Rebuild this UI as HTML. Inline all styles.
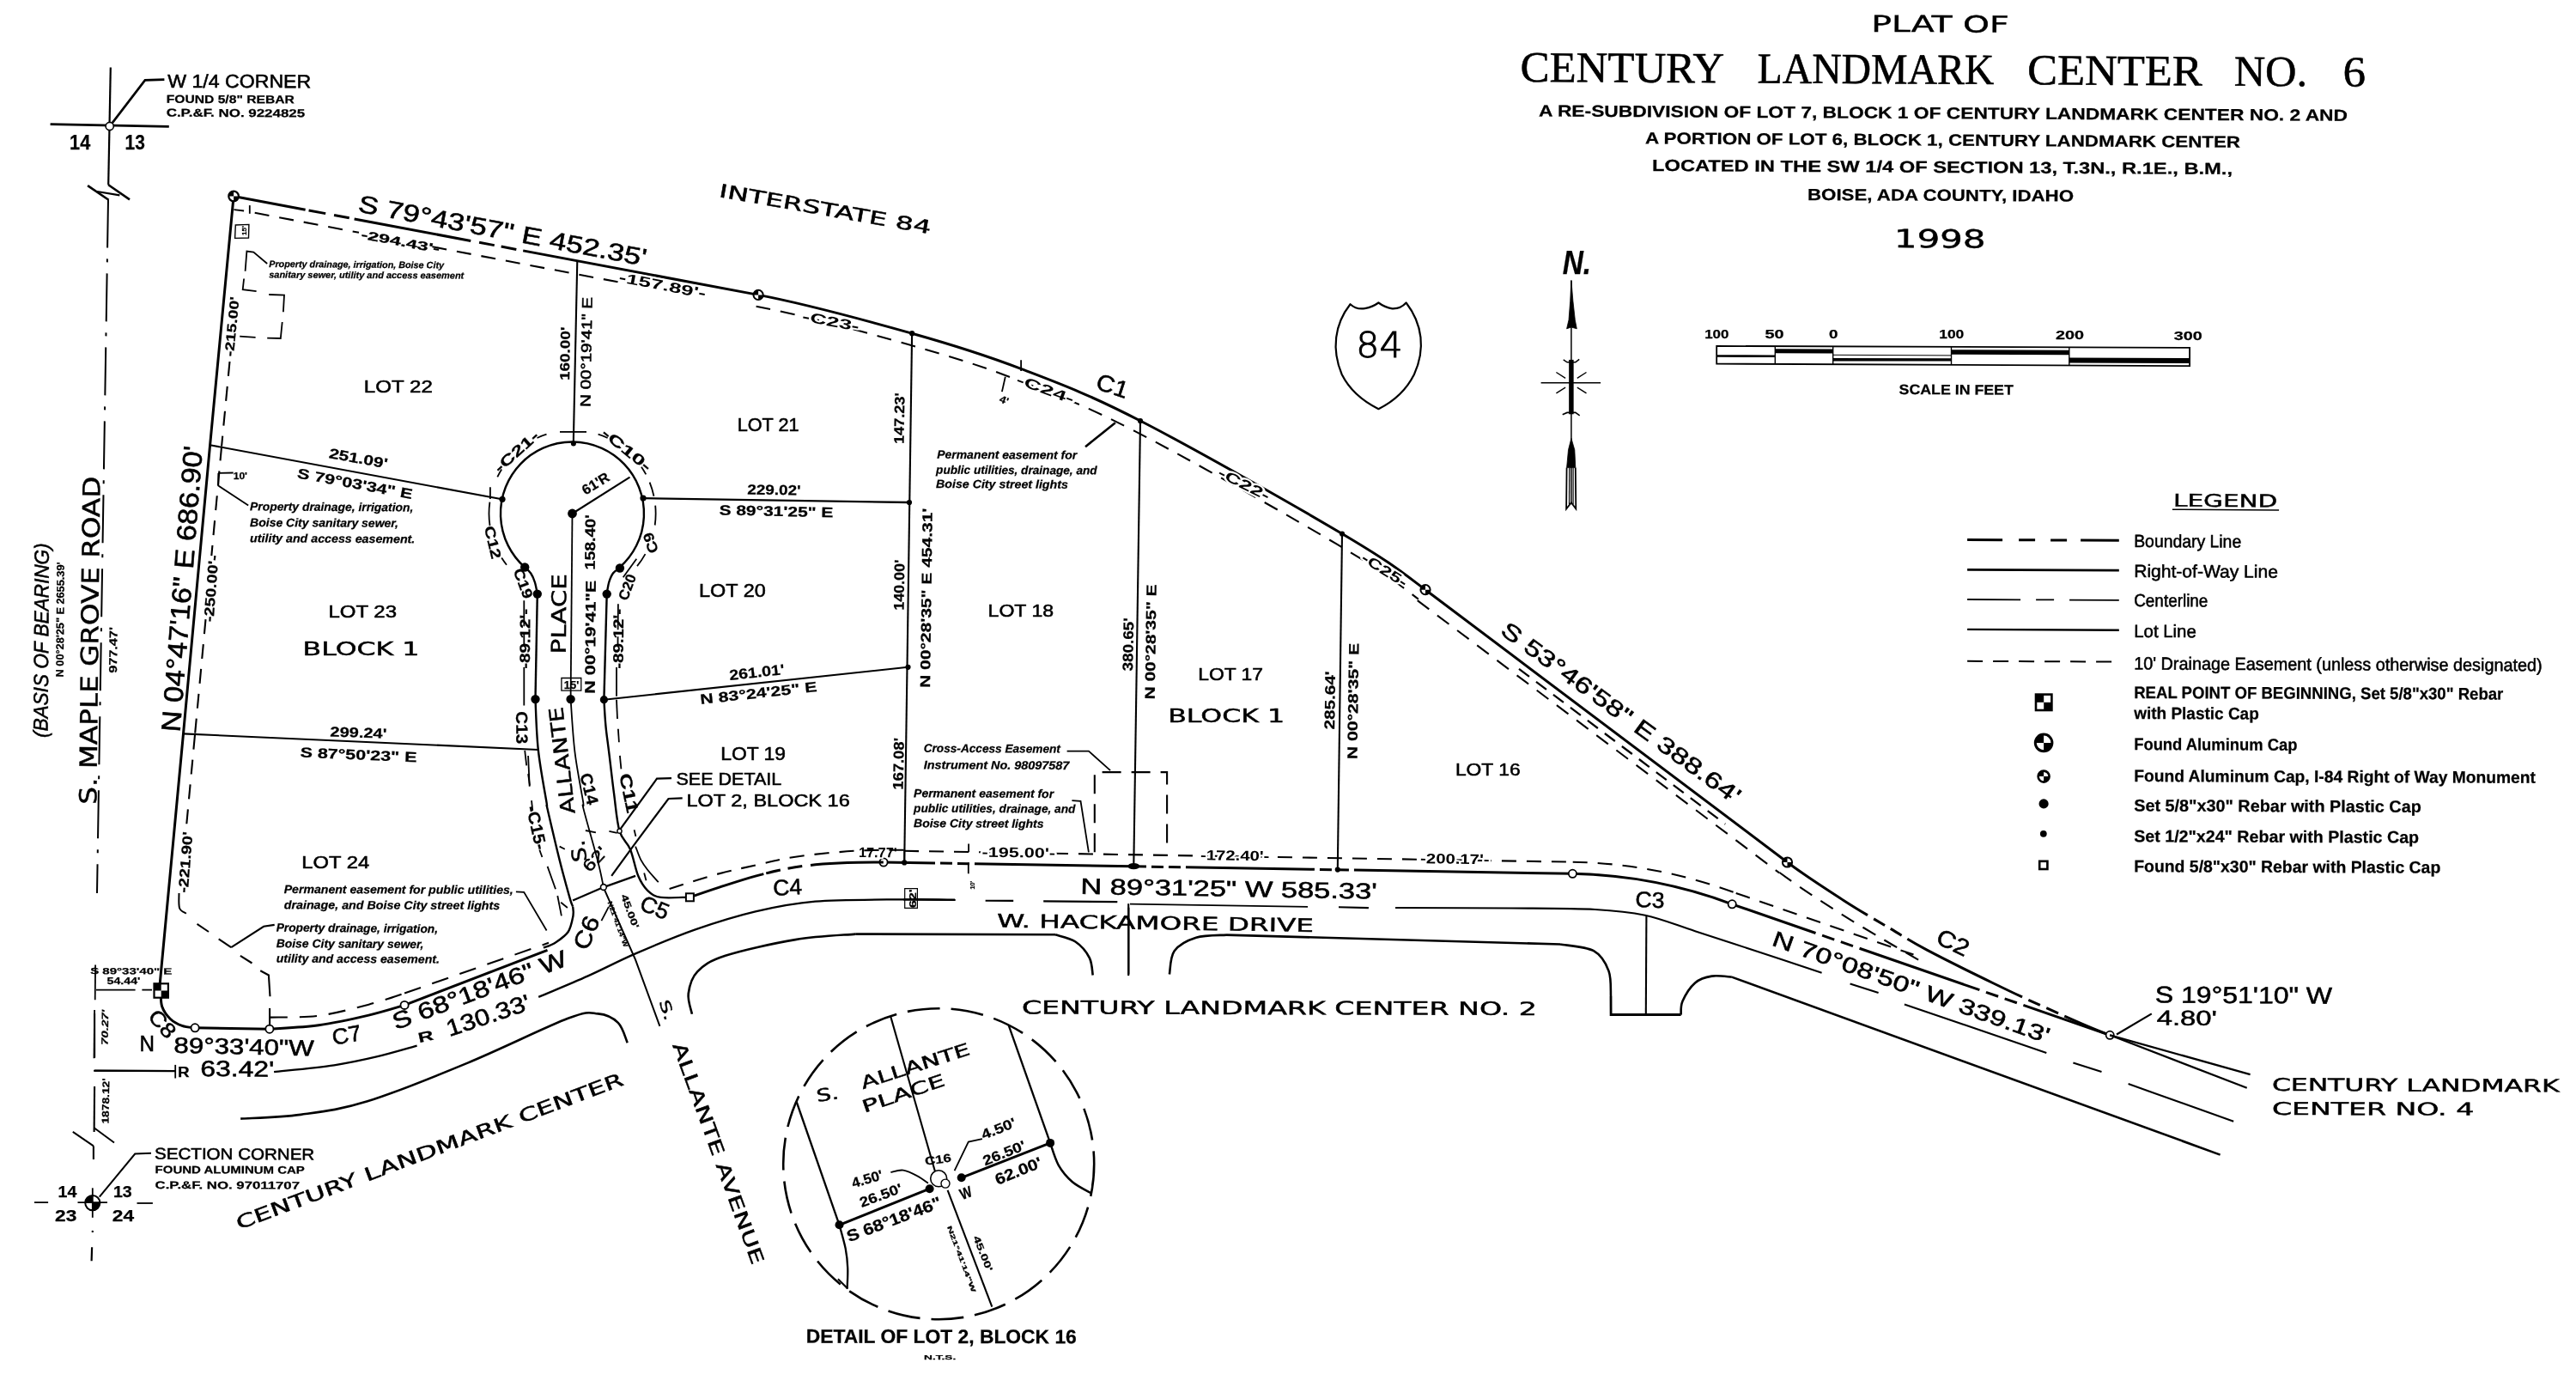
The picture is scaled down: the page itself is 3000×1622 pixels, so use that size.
<!DOCTYPE html>
<html><head><meta charset="utf-8"><title>Plat of Century Landmark Center No. 6</title>
<style>
html,body{margin:0;padding:0;background:#fff;overflow:hidden;width:3000px;height:1622px}
svg{display:block;filter:grayscale(1)}
text{fill:#000;white-space:pre;stroke:#000;stroke-width:0.55px}
.s{font-family:"Liberation Sans",sans-serif}
.r{font-family:"Liberation Serif",serif}
.d{font-family:"DejaVu Sans","Liberation Sans",sans-serif;stroke-width:0.45px}
.xl{font-weight:200;stroke-width:1px}
.m{font-family:"Liberation Mono",monospace}
.b{font-weight:bold;stroke-width:0.25px}
.h{paint-order:stroke;stroke:#fff;stroke-width:4px;stroke-linejoin:round}
.i{font-style:italic}
</style></head><body>
<svg width="3000" height="1622" viewBox="0 0 3000 1622">
<rect width="3000" height="1622" fill="#fff"/>
<text class="d" x="2179.3" y="36.9" font-size="26.6" textLength="160.3" lengthAdjust="spacingAndGlyphs" transform="rotate(0.28 2179.3 36.9)">PLAT OF</text>
<text class="r" x="1770.6" y="95.0" font-size="50.4" textLength="237.4" lengthAdjust="spacingAndGlyphs" transform="rotate(0.32 1770.6 95.0)">CENTURY</text>
<text class="r" x="2046.6" y="96.5" font-size="50.4" textLength="275.6" lengthAdjust="spacingAndGlyphs" transform="rotate(0.32 2046.6 96.5)">LANDMARK</text>
<text class="r" x="2361.0" y="98.3" font-size="50.4" textLength="203.8" lengthAdjust="spacingAndGlyphs" transform="rotate(0.32 2361.0 98.3)">CENTER</text>
<text class="r" x="2601.7" y="99.7" font-size="50.4" textLength="85.4" lengthAdjust="spacingAndGlyphs" transform="rotate(0.32 2601.7 99.7)">NO.</text>
<text class="r" x="2728.5" y="100.4" font-size="50.4" textLength="26.5" lengthAdjust="spacingAndGlyphs" transform="rotate(0.32 2728.5 100.4)">6</text>
<text class="s b" x="1792.0" y="135.5" font-size="18.9" textLength="942.0" lengthAdjust="spacingAndGlyphs" transform="rotate(0.32 1792.0 135.5)">A RE-SUBDIVISION OF LOT 7, BLOCK 1 OF CENTURY LANDMARK CENTER NO. 2 AND</text>
<text class="s b" x="1916.0" y="167.3" font-size="18.9" textLength="693.0" lengthAdjust="spacingAndGlyphs" transform="rotate(0.37 1916.0 167.3)">A PORTION OF LOT 6, BLOCK 1, CENTURY LANDMARK CENTER</text>
<text class="s b" x="1924.0" y="199.0" font-size="18.9" textLength="676.0" lengthAdjust="spacingAndGlyphs" transform="rotate(0.34 1924.0 199.0)">LOCATED IN THE SW 1/4 OF SECTION 13, T.3N., R.1E., B.M.,</text>
<text class="s b" x="2105.0" y="233.0" font-size="18.9" textLength="310.0" lengthAdjust="spacingAndGlyphs" transform="rotate(0.28 2105.0 233.0)">BOISE, ADA COUNTY, IDAHO</text>
<text class="d" x="2205.7" y="288.0" font-size="29.3" textLength="106.8" lengthAdjust="spacingAndGlyphs" transform="rotate(0.42 2205.7 288.0)">1998</text>
<text class="s b" x="1985.2" y="394.0" font-size="15.2" textLength="28.3" lengthAdjust="spacingAndGlyphs">100</text>
<text class="s b" x="2055.5" y="394.0" font-size="15.2" textLength="22.1" lengthAdjust="spacingAndGlyphs">50</text>
<text class="s b" x="2130.0" y="394.0" font-size="15.2" textLength="10.5" lengthAdjust="spacingAndGlyphs">0</text>
<text class="s b" x="2258.2" y="394.4" font-size="15.2" textLength="29.1" lengthAdjust="spacingAndGlyphs">100</text>
<text class="s b" x="2394.0" y="395.2" font-size="15.2" textLength="33.0" lengthAdjust="spacingAndGlyphs">200</text>
<text class="s b" x="2531.8" y="396.0" font-size="15.2" textLength="33.0" lengthAdjust="spacingAndGlyphs">300</text>
<text class="s b" x="2211.6" y="458.9" font-size="16.3" textLength="133.2" lengthAdjust="spacingAndGlyphs" transform="rotate(0.33 2211.6 458.9)">SCALE IN FEET</text>
<path d="M1999.2 402.9 L2550.1 404.9 L2550.1 426.1 L1999.2 423.6 Z" fill="none" stroke="#000" stroke-width="1.80"/>
<path d="M2067.3 403.1 L2067.3 423.9" fill="none" stroke="#000" stroke-width="1.40"/>
<path d="M2134.7 403.4 L2134.7 424.2" fill="none" stroke="#000" stroke-width="1.40"/>
<path d="M2272.5 403.9 L2272.5 424.8" fill="none" stroke="#000" stroke-width="1.40"/>
<path d="M2409.8 404.4 L2409.8 425.5" fill="none" stroke="#000" stroke-width="1.40"/>
<path d="M1999.2 414.5 L2067.3 414.8" fill="none" stroke="#000" stroke-width="2.60"/>
<path d="M2067.3 408.7 L2134.7 408.9" fill="none" stroke="#000" stroke-width="5.00"/>
<path d="M2134.7 418.8 L2272.5 418.9" fill="none" stroke="#000" stroke-width="3.40"/>
<path d="M2272.5 410.0 L2409.8 410.5" fill="none" stroke="#000" stroke-width="5.50"/>
<path d="M2409.8 419.4 L2550.1 420.1" fill="none" stroke="#000" stroke-width="6.00"/>
<path d="M2134.7 413.3 L2272.5 413.9" fill="none" stroke="#000" stroke-width="1.00"/>
<path d="M1572.5 354.2 Q1579.8 360.8 1589.6 359.1 Q1598.6 357.4 1605.4 352.5 Q1612.7 357.9 1621.3 359.3 Q1631.0 359.8 1637.6 352.5 C1656.7 377.4 1660.3 406.7 1646.9 436.0 C1637.1 455.5 1620.1 468.9 1605.4 476.2 C1590.8 468.9 1572.5 455.5 1562.7 436.0 C1550.5 406.7 1554.2 377.4 1572.5 354.2Z" fill="none" stroke="#000" stroke-width="2.2" stroke-linejoin="round"/>
<text class="d xl" x="1579.3" y="416.4" font-size="40.2" textLength="54.2" lengthAdjust="spacingAndGlyphs">84</text>
<text class="s b i" x="1819.7" y="318.8" font-size="38.2" textLength="33.4" lengthAdjust="spacingAndGlyphs">N.</text>
<path d="M1829.9 326.6 L1829.9 587.3" fill="none" stroke="#000" stroke-width="1.50"/>
<path d="M1829.9 326.6 L1831.9 350.5 L1834.3 372.5 L1836.3 382.8 L1829.9 381.0 L1824.6 382.8 L1827.0 372.5 L1828.7 350.5 Z" fill="#000" stroke="#000" stroke-width="0.80"/>
<path d="M1829.9 418.9 L1829.9 482.3" fill="none" stroke="#000" stroke-width="5.50"/>
<path d="M1794.6 445.7 L1864.1 445.7" fill="none" stroke="#000" stroke-width="1.60"/>
<path d="M1836.8 451.1 L1847.5 457.9" fill="none" stroke="#000" stroke-width="1.40"/>
<path d="M1836.8 440.3 L1847.5 433.5" fill="none" stroke="#000" stroke-width="1.40"/>
<path d="M1823.1 451.1 L1812.4 457.9" fill="none" stroke="#000" stroke-width="1.40"/>
<path d="M1823.1 440.3 L1812.4 433.5" fill="none" stroke="#000" stroke-width="1.40"/>
<path d="M1820.7 418.9 L1825.1 421.8 L1834.8 421.8 L1839.2 418.4" fill="none" stroke="#000" stroke-width="1.60"/>
<path d="M1819.7 482.8 L1825.1 480.4 L1834.8 480.4 L1839.7 483.8" fill="none" stroke="#000" stroke-width="1.60"/>
<path d="M1829.9 510.4 L1833.8 523.8 L1834.8 544.6 L1824.6 544.6 L1826.5 523.8 Z" fill="#000" stroke="#000" stroke-width="0.80"/>
<path d="M1824.6 544.6 L1824.1 592.6 L1829.9 585.3 L1835.3 592.6 L1834.8 544.6" fill="none" stroke="#000" stroke-width="1.80"/>
<path d="M1827.7 544.6 L1827.5 587.3" fill="none" stroke="#000" stroke-width="1.20"/>
<path d="M1832.1 544.6 L1832.1 587.3" fill="none" stroke="#000" stroke-width="1.20"/>
<text class="d" x="2531.1" y="589.7" font-size="20.2" textLength="121.1" lengthAdjust="spacingAndGlyphs" transform="rotate(0.37 2531.1 589.7)">LEGEND</text>
<path d="M2529.9 593.2 L2654.1 594.0" fill="none" stroke="#000" stroke-width="1.60"/>
<path d="M2291.1 628.5 L2467.8 629.3" fill="none" stroke="#000" stroke-width="3.00" stroke-dasharray="41 19 19 18 19 16 45 100"/>
<path d="M2291.1 663.4 L2467.8 664.2" fill="none" stroke="#000" stroke-width="2.70"/>
<path d="M2291.1 698.0 L2467.8 698.8" fill="none" stroke="#000" stroke-width="1.80" stroke-dasharray="62 18 21 18 58 100"/>
<path d="M2291.1 732.9 L2467.8 733.7" fill="none" stroke="#000" stroke-width="2.40"/>
<path d="M2291.1 769.8 L2467.8 770.6" fill="none" stroke="#000" stroke-width="2.00" stroke-dasharray="18 12"/>
<text class="s" x="2485.2" y="637.0" font-size="20.6" textLength="125.0" lengthAdjust="spacingAndGlyphs" transform="rotate(0.23 2485.2 637.0)">Boundary Line</text>
<text class="s" x="2485.2" y="672.0" font-size="20.6" textLength="167.7" lengthAdjust="spacingAndGlyphs" transform="rotate(0.23 2485.2 672.0)">Right-of-Way Line</text>
<text class="s" x="2485.2" y="706.1" font-size="20.6" textLength="86.2" lengthAdjust="spacingAndGlyphs" transform="rotate(0.23 2485.2 706.1)">Centerline</text>
<text class="s" x="2485.2" y="741.9" font-size="20.6" textLength="72.6" lengthAdjust="spacingAndGlyphs" transform="rotate(0.23 2485.2 741.9)">Lot Line</text>
<text class="s" x="2485.2" y="779.5" font-size="20.6" textLength="475.5" lengthAdjust="spacingAndGlyphs" transform="rotate(0.23 2485.2 779.5)">10' Drainage Easement (unless otherwise designated)</text>
<text class="s b" x="2485.2" y="812.9" font-size="19.5" textLength="430.1" lengthAdjust="spacingAndGlyphs" transform="rotate(0.23 2485.2 812.9)">REAL POINT OF BEGINNING, Set 5/8"x30" Rebar</text>
<text class="s b" x="2485.2" y="837.0" font-size="19.5" textLength="145.6" lengthAdjust="spacingAndGlyphs" transform="rotate(0.23 2485.2 837.0)">with Plastic Cap</text>
<text class="s b" x="2485.2" y="873.1" font-size="19.5" textLength="190.2" lengthAdjust="spacingAndGlyphs" transform="rotate(0.23 2485.2 873.1)">Found Aluminum Cap</text>
<text class="s b" x="2485.2" y="910.0" font-size="19.5" textLength="467.8" lengthAdjust="spacingAndGlyphs" transform="rotate(0.23 2485.2 910.0)">Found Aluminum Cap, I-84 Right of Way Monument</text>
<text class="s b" x="2485.2" y="944.5" font-size="19.5" textLength="334.6" lengthAdjust="spacingAndGlyphs" transform="rotate(0.23 2485.2 944.5)">Set 5/8"x30" Rebar with Plastic Cap</text>
<text class="s b" x="2485.2" y="980.2" font-size="19.5" textLength="331.9" lengthAdjust="spacingAndGlyphs" transform="rotate(0.23 2485.2 980.2)">Set 1/2"x24" Rebar with Plastic Cap</text>
<text class="s b" x="2485.2" y="1015.2" font-size="19.5" textLength="357.1" lengthAdjust="spacingAndGlyphs" transform="rotate(0.23 2485.2 1015.2)">Found 5/8"x30" Rebar with Plastic Cap</text>
<rect x="2371.0" y="808.6" width="18.4" height="18.4" fill="#fff" stroke="#000" stroke-width="2.6"/>
<rect x="2371.0" y="808.6" width="9.2" height="9.2" fill="#000"/>
<rect x="2380.2" y="817.8" width="9.2" height="9.2" fill="#000"/>
<circle cx="2380.1" cy="864.9" r="9.8" fill="#fff" stroke="#000" stroke-width="3.0"/>
<path d="M2380.1 864.9 L2370.3 864.9 A9.8 9.8 0 0 1 2380.1 855.1 Z" fill="#000"/>
<path d="M2380.1 864.9 L2389.9 864.9 A9.8 9.8 0 0 1 2380.1 874.7 Z" fill="#000"/>
<circle cx="2380.1" cy="904.1" r="6.5" fill="#fff" stroke="#000" stroke-width="2.6"/>
<path d="M2380.1 904.1 L2373.6 904.1 A6.5 6.5 0 0 1 2380.1 897.6 Z" fill="#000"/>
<path d="M2380.1 904.1 L2386.6 904.1 A6.5 6.5 0 0 1 2380.1 910.6 Z" fill="#000"/>
<circle cx="2380.1" cy="935.9" r="5.6" fill="#000"/>
<circle cx="2379.8" cy="970.8" r="3.9" fill="#000"/>
<rect x="2375.2" y="1002.8" width="9.2" height="9.2" fill="#fff" stroke="#000" stroke-width="2.6"/>
<path d="M128.8 78.6 L126.2 215.3" fill="none" stroke="#000" stroke-width="2.20"/>
<path d="M58.6 144.6 L196.8 147.3" fill="none" stroke="#000" stroke-width="2.80"/>
<path d="M126.2 215.3 L151.0 232.4" fill="none" stroke="#000" stroke-width="2.60"/>
<path d="M102.1 216.1 L126.5 232.7" fill="none" stroke="#000" stroke-width="2.60"/>
<path d="M139.4 227.4 L113.0 223.0" fill="none" stroke="#000" stroke-width="2.20"/>
<path d="M130.8 143.1 L168.9 93.4 L191.4 92.6" fill="none" stroke="#000" stroke-width="2.60"/>
<circle cx="127.7" cy="147.0" r="4.6" fill="#fff" stroke="#000" stroke-width="1.60"/>
<text class="s" x="195.3" y="101.9" font-size="21.7" textLength="166.9" lengthAdjust="spacingAndGlyphs" transform="rotate(0.11 195.3 101.9)">W 1/4 CORNER</text>
<text class="s b" x="193.7" y="119.8" font-size="13.0" textLength="149.1" lengthAdjust="spacingAndGlyphs" transform="rotate(0.18 193.7 119.8)">FOUND 5/8" REBAR</text>
<text class="s b" x="193.7" y="135.6" font-size="13.0" textLength="161.5" lengthAdjust="spacingAndGlyphs" transform="rotate(0.28 193.7 135.6)">C.P.&amp;F. NO. 9224825</text>
<text class="s b" x="81.1" y="174.1" font-size="23.4" textLength="24.1" lengthAdjust="spacingAndGlyphs">14</text>
<text class="s b" x="145.6" y="174.1" font-size="23.4" textLength="23.3" lengthAdjust="spacingAndGlyphs">13</text>
<path d="M126.0 232.4 L113.0 1040.0" fill="none" stroke="#000" stroke-width="2.00" stroke-dasharray="56 13 4 13"/>
<path d="M272.1 228.5 L883.1 343.4" fill="none" stroke="#000" stroke-width="3.00" stroke-dasharray="85 4 20 10 18 6 138 10 18 8 18 8 1000"/>
<path d="M883.1 343.4 C943.5 354.8 1011.2 373.9 1062.1 388.2 C1113.0 402.5 1144.0 412.1 1188.3 429.1 C1232.6 446.1 1265.5 457.9 1328.0 490.0 C1390.5 522.1 1507.7 588.7 1563.0 621.5 C1618.3 654.3 1628.9 663.3 1660.0 686.7" fill="none" stroke="#000" stroke-width="3.00"/>
<path d="M1660.0 686.7 L2081.5 1004.0" fill="none" stroke="#000" stroke-width="3.00"/>
<path d="M2081.5 1004.0 C2102.6 1019.9 2127.1 1035.5 2147.1 1048.4 C2167.1 1061.3 2185.2 1071.6 2201.4 1081.2 C2217.6 1090.8 2224.1 1095.6 2244.1 1106.2 C2264.1 1116.8 2299.0 1134.0 2321.7 1145.0 C2344.3 1156.0 2357.4 1162.2 2380.0 1172.2 C2402.6 1182.2 2430.9 1195.6 2457.2 1205.3" fill="none" stroke="#000" stroke-width="3.00" stroke-dasharray="112 8 15 8 15 8 150 8 15 8 15 8 400"/>
<path d="M272.1 228.5 L244.6 518.2 L213.5 854.4 L185.6 1152.0" fill="none" stroke="#000" stroke-width="3.00"/>
<path d="M296.7 247.8 L418.0 270.8" fill="none" stroke="#000" stroke-width="2.10" stroke-dasharray="17 12"/>
<path d="M503.4 287.3 L720.0 328.4" fill="none" stroke="#000" stroke-width="2.10" stroke-dasharray="17 12"/>
<path d="M272.4 244.2 L284.1 245.5" fill="none" stroke="#000" stroke-width="1.80"/>
<path d="M290.8 239.1 L290.8 248.8" fill="none" stroke="#000" stroke-width="1.80"/>
<path d="M274.3 262.0 L289.9 261.4 L289.5 277.0 L273.6 277.4 Z" fill="none" stroke="#000" stroke-width="1.40"/>
<text class="s b" x="287.0" y="274.1" font-size="8.1" transform="rotate(-90.00 287.0 274.1)">15'</text>
<path d="M285.6 315.8 L287.4 292.5 L295.3 293.5 L311.2 307.0" fill="none" stroke="#000" stroke-width="1.80"/>
<path d="M284.1 324.5 L282.7 337.1 L298.6 339.1" fill="none" stroke="#000" stroke-width="1.80"/>
<path d="M313.2 343.0 L331.0 343.5 L329.9 363.3" fill="none" stroke="#000" stroke-width="1.80"/>
<path d="M328.7 375.0 L326.8 394.0 L311.2 393.6" fill="none" stroke="#000" stroke-width="1.80"/>
<path d="M297.6 392.8 L279.2 391.7" fill="none" stroke="#000" stroke-width="1.80"/>
<text class="s b i" x="313.2" y="310.9" font-size="10.8" textLength="203.8" lengthAdjust="spacingAndGlyphs" transform="rotate(0.44 313.2 310.9)">Property drainage, irrigation, Boise City</text>
<text class="s b i" x="313.2" y="323.5" font-size="10.8" textLength="227.1" lengthAdjust="spacingAndGlyphs" transform="rotate(0.24 313.2 323.5)">sanitary sewer, utility and access easement</text>
<text class="s b" x="419.9" y="277.5" font-size="14.1" textLength="92.8" lengthAdjust="spacingAndGlyphs" transform="rotate(10.72 419.9 277.5)">-294.43'-</text>
<text class="s" x="416.0" y="246.3" font-size="28.2" textLength="341.0" lengthAdjust="spacingAndGlyphs" transform="rotate(10.73 416.0 246.3)">S 79°43'57" E 452.35'</text>
<text class="s" x="423.8" y="456.9" font-size="20.9" textLength="80.0" lengthAdjust="spacingAndGlyphs">LOT 22</text>
<text class="s b" x="272.0" y="415.4" font-size="15.2" textLength="69.8" lengthAdjust="spacingAndGlyphs" transform="rotate(-84.57 272.0 415.4)">-215.00'</text>
<path d="M672.3 303.2 L667.8 515.9" fill="none" stroke="#000" stroke-width="2.10"/>
<text class="s b" x="662.9" y="442.9" font-size="15.7" textLength="62.1" lengthAdjust="spacingAndGlyphs" transform="rotate(-88.93 662.9 442.9)">160.00'</text>
<text class="s" x="687.4" y="474.0" font-size="16.8" textLength="128.1" lengthAdjust="spacingAndGlyphs" transform="rotate(-88.96 687.4 474.0)">N 00°19'41" E</text>
<path d="M611.2 660.6 A83.5 83.5 0 1 1 721.4 660.9" fill="none" stroke="#000" stroke-width="2.40"/>
<path d="M611.2 660.5 C612.4 661.6 616.1 664.4 618.0 667.3 C620.0 670.2 621.6 673.9 622.9 678.0 C624.2 682.0 625.3 689.3 625.8 691.6" fill="none" stroke="#000" stroke-width="2.40"/>
<path d="M721.9 661.5 C720.6 662.5 716.2 664.6 714.1 667.3 C712.0 670.1 710.5 673.9 709.2 678.0 C708.0 682.0 707.1 689.3 706.7 691.6" fill="none" stroke="#000" stroke-width="2.40"/>
<path d="M570.5 612.2 A97.1 97.1 0 0 1 570.4 584.7" fill="none" stroke="#000" stroke-width="1.80"/>
<path d="M579.3 555.4 A97.1 97.1 0 0 1 584.2 546.6" fill="none" stroke="#000" stroke-width="1.80"/>
<path d="M625.5 510.0 A97.1 97.1 0 0 1 636.5 505.7" fill="none" stroke="#000" stroke-width="1.80"/>
<path d="M696.6 505.7 A97.1 97.1 0 0 1 707.6 510.0" fill="none" stroke="#000" stroke-width="1.80"/>
<path d="M747.0 543.7 A97.1 97.1 0 0 1 752.3 552.4" fill="none" stroke="#000" stroke-width="1.80"/>
<path d="M756.6 561.6 A97.1 97.1 0 0 1 761.5 577.8" fill="none" stroke="#000" stroke-width="1.80"/>
<path d="M763.2 588.7 A97.1 97.1 0 0 1 762.7 611.5" fill="none" stroke="#000" stroke-width="1.80"/>
<path d="M751.5 645.1 A97.1 97.1 0 0 1 742.0 659.1" fill="none" stroke="#000" stroke-width="1.80"/>
<path d="M590.0 657.8 A97.1 97.1 0 0 1 584.2 649.5" fill="none" stroke="#000" stroke-width="1.80"/>
<path d="M652.0 502.9 L683.0 502.9" fill="none" stroke="#000" stroke-width="1.80"/>
<path d="M570.9 567.3 L570.9 580.9" fill="none" stroke="#000" stroke-width="1.80"/>
<path d="M666.5 598.0 L733.5 555.7" fill="none" stroke="#000" stroke-width="2.10"/>
<circle cx="666.5" cy="598.0" r="5.4" fill="#000"/>
<circle cx="611.2" cy="660.5" r="5.2" fill="#000"/>
<circle cx="721.9" cy="661.5" r="5.2" fill="#000"/>
<circle cx="625.8" cy="691.6" r="5.2" fill="#000"/>
<circle cx="706.7" cy="691.6" r="5.2" fill="#000"/>
<circle cx="585.0" cy="581.3" r="3.6" fill="#000"/>
<circle cx="749.0" cy="580.0" r="3.6" fill="#000"/>
<circle cx="667.9" cy="516.5" r="3.0" fill="#000"/>
<path d="M244.6 518.2 L584.5 581.3" fill="none" stroke="#000" stroke-width="2.10"/>
<path d="M749.0 580.2 L1059.0 585.0" fill="none" stroke="#000" stroke-width="2.30"/>
<text class="s" x="858.7" y="501.7" font-size="21.7" textLength="71.8" lengthAdjust="spacingAndGlyphs">LOT 21</text>
<text class="s b" x="870.3" y="575.5" font-size="16.3" textLength="62.1" lengthAdjust="spacingAndGlyphs" transform="rotate(0.90 870.3 575.5)">229.02'</text>
<text class="s b" x="837.4" y="599.4" font-size="16.3" textLength="133.0" lengthAdjust="spacingAndGlyphs" transform="rotate(1.25 837.4 599.4)">S 89°31'25" E</text>
<text class="s" x="814.1" y="694.5" font-size="21.7" textLength="77.6" lengthAdjust="spacingAndGlyphs">LOT 20</text>
<text class="s b" x="682.1" y="576.7" font-size="16.3" textLength="34.3" lengthAdjust="spacingAndGlyphs" transform="rotate(-31.80 682.1 576.7)">61'R</text>
<text class="s b" x="692.7" y="663.4" font-size="16.8" textLength="64.1" lengthAdjust="spacingAndGlyphs" transform="rotate(-89.48 692.7 663.4)">158.40'</text>
<text class="s b" x="581.7" y="551.4" font-size="16.8" textLength="63.2" lengthAdjust="spacingAndGlyphs" transform="rotate(-42.01 581.7 551.4)">-C21-</text>
<text class="s b" x="699.5" y="506.2" font-size="16.8" textLength="69.0" lengthAdjust="spacingAndGlyphs" transform="rotate(39.29 699.5 506.2)">-C10-</text>
<text class="s b" x="563.7" y="613.9" font-size="16.8" textLength="38.9" lengthAdjust="spacingAndGlyphs" transform="rotate(76.45 563.7 613.9)">C12</text>
<text class="s b" x="597.6" y="664.4" font-size="16.8" textLength="36.2" lengthAdjust="spacingAndGlyphs" transform="rotate(69.62 597.6 664.4)">C19</text>
<text class="s b" x="766.9" y="642.1" font-size="16.8" textLength="24.4" lengthAdjust="spacingAndGlyphs" transform="rotate(-107.14 766.9 642.1)">C9</text>
<text class="s b" x="730.6" y="700.3" font-size="16.8" textLength="31.0" lengthAdjust="spacingAndGlyphs" transform="rotate(-69.86 730.6 700.3)">C20</text>
<path d="M625.8 691.6 L623.5 814.1" fill="none" stroke="#000" stroke-width="2.40"/>
<path d="M706.7 691.6 L703.4 814.7" fill="none" stroke="#000" stroke-width="2.40"/>
<path d="M666.5 598.0 L664.6 814.1" fill="none" stroke="#000" stroke-width="1.80"/>
<path d="M623.5 814.1 C624.0 823.9 624.6 853.0 626.8 873.0 C628.9 893.0 634.6 922.6 636.5 934.1 C638.3 945.6 635.1 930.9 637.6 942.1 C640.2 953.3 647.3 984.0 651.6 1001.1 C655.9 1018.2 660.7 1035.5 663.3 1044.6 C665.8 1053.7 666.5 1053.7 667.1 1055.5" fill="none" stroke="#000" stroke-width="2.40"/>
<path d="M667.1 1055.5 C667.2 1057.3 668.4 1061.4 667.5 1066.3 C666.5 1071.3 665.1 1079.8 661.7 1085.0 C658.3 1090.1 651.7 1094.3 647.0 1097.4 C642.2 1100.5 635.3 1102.6 633.0 1103.6" fill="none" stroke="#000" stroke-width="2.40"/>
<path d="M664.6 814.1 C665.4 824.4 667.0 855.9 669.5 875.9 C671.9 895.9 677.5 923.1 679.2 934.1 C680.8 945.1 676.7 930.4 679.6 942.1 C682.5 953.8 692.8 989.1 696.6 1004.2 C700.5 1019.4 701.8 1028.2 702.9 1033.0" fill="none" stroke="#000" stroke-width="1.80"/>
<path d="M703.4 814.7 C703.7 819.7 704.4 834.6 705.4 844.8 C706.3 855.0 707.6 862.6 709.2 875.9 C710.9 889.1 713.0 909.1 715.1 924.4 C717.1 939.7 718.3 957.0 721.5 967.7 C724.6 978.4 730.3 980.0 733.9 988.7 C737.5 997.4 739.9 1011.7 743.2 1019.8 C746.6 1027.8 749.7 1032.6 754.1 1036.8 C758.5 1041.0 761.6 1043.6 769.6 1044.9 C777.7 1046.2 796.8 1044.6 802.2 1044.6" fill="none" stroke="#000" stroke-width="2.40"/>
<path d="M667.1 1048.5 L702.9 1033.0 L740.1 1019.8" fill="none" stroke="#000" stroke-width="2.40"/>
<circle cx="623.5" cy="814.1" r="5.2" fill="#000"/>
<circle cx="664.6" cy="814.1" r="5.2" fill="#000"/>
<circle cx="703.4" cy="814.7" r="4.6" fill="#000"/>
<path d="M610.3 699.3 L610.3 750.0" fill="none" stroke="#000" stroke-width="1.80" stroke-dasharray="30 8"/>
<path d="M719.9 703.2 L719.5 750.0" fill="none" stroke="#000" stroke-width="1.80" stroke-dasharray="30 8"/>
<path d="M741.3 650.8 L725.7 672.2" fill="none" stroke="#000" stroke-width="1.80"/>
<path d="M610.3 776.9 L610.3 821.5" fill="none" stroke="#000" stroke-width="1.80"/>
<path d="M718.0 776.9 L718.0 810.8" fill="none" stroke="#000" stroke-width="1.80"/>
<path d="M718.0 814.7 L719.0 837.0" fill="none" stroke="#000" stroke-width="1.80"/>
<path d="M719.9 848.7 L720.9 864.2" fill="none" stroke="#000" stroke-width="1.80"/>
<path d="M721.9 879.8 L723.4 895.3" fill="none" stroke="#000" stroke-width="1.80"/>
<path d="M611.2 873.9 L613.2 891.4" fill="none" stroke="#000" stroke-width="1.80"/>
<path d="M615.1 901.1 L617.0 914.7" fill="none" stroke="#000" stroke-width="1.80"/>
<path d="M619.0 932.2 L620.3 943.8" fill="none" stroke="#000" stroke-width="1.80"/>
<path d="M615.1 880.0 L616.7 915.7" fill="none" stroke="#000" stroke-width="1.80"/>
<path d="M628.3 989.5 L631.4 998.0" fill="none" stroke="#000" stroke-width="1.80"/>
<path d="M637.6 1008.9 L647.0 1035.3" fill="none" stroke="#000" stroke-width="1.80"/>
<path d="M649.3 1043.0 L653.9 1066.3" fill="none" stroke="#000" stroke-width="1.80"/>
<path d="M651.6 985.6 L657.8 988.7" fill="none" stroke="#000" stroke-width="1.80"/>
<path d="M653.2 1050.8 L660.9 1057.0" fill="none" stroke="#000" stroke-width="1.80"/>
<path d="M703.4 814.7 L1057.5 776.8" fill="none" stroke="#000" stroke-width="2.10"/>
<path d="M213.5 854.4 L626.8 873.0" fill="none" stroke="#000" stroke-width="2.10"/>
<text class="s b" x="850.0" y="792.0" font-size="16.8" textLength="64.4" lengthAdjust="spacingAndGlyphs" transform="rotate(-6.23 850.0 792.0)">261.01'</text>
<text class="s b" x="816.0" y="820.0" font-size="16.3" textLength="136.7" lengthAdjust="spacingAndGlyphs" transform="rotate(-6.28 816.0 820.0)">N 83°24'25" E</text>
<text class="s" x="839.3" y="884.6" font-size="21.7" textLength="75.7" lengthAdjust="spacingAndGlyphs">LOT 19</text>
<text class="s" x="787.5" y="914.3" font-size="20.3" textLength="122.7" lengthAdjust="spacingAndGlyphs">SEE DETAIL</text>
<text class="s" x="799.5" y="939.0" font-size="20.3" textLength="190.2" lengthAdjust="spacingAndGlyphs">LOT 2, BLOCK 16</text>
<path d="M782.0 906.1 L765.0 906.7 L721.9 966.1" fill="none" stroke="#000" stroke-width="2.20"/>
<path d="M794.7 929.4 L778.5 930.0 L739.3 982.6 L712.2 1019.8" fill="none" stroke="#000" stroke-width="2.20"/>
<text class="s b" x="601.1" y="828.3" font-size="19.0" textLength="37.9" lengthAdjust="spacingAndGlyphs" transform="rotate(89.41 601.1 828.3)">C13</text>
<text class="d" x="669.8" y="946.7" font-size="22.9" textLength="125.1" lengthAdjust="spacingAndGlyphs" transform="rotate(-96.68 669.8 946.7)">ALLANTE</text>
<text class="s b" x="675.3" y="902.1" font-size="19.5" textLength="37.0" lengthAdjust="spacingAndGlyphs" transform="rotate(76.33 675.3 902.1)">C14</text>
<text class="s b" x="720.9" y="902.1" font-size="19.5" textLength="46.6" lengthAdjust="spacingAndGlyphs" transform="rotate(77.99 720.9 902.1)">C11</text>
<text class="s b" x="612.8" y="939.9" font-size="19.5" textLength="51.7" lengthAdjust="spacingAndGlyphs" transform="rotate(77.63 612.8 939.9)">-C15-</text>
<text class="s b" x="617.0" y="778.8" font-size="16.8" textLength="69.9" lengthAdjust="spacingAndGlyphs" transform="rotate(-89.68 617.0 778.8)">-89.12'-</text>
<text class="s b" x="725.7" y="778.8" font-size="16.8" textLength="69.9" lengthAdjust="spacingAndGlyphs" transform="rotate(-89.68 725.7 778.8)">-89.12'-</text>
<text class="s b" x="692.7" y="807.9" font-size="16.8" textLength="132.0" lengthAdjust="spacingAndGlyphs" transform="rotate(-89.49 692.7 807.9)">N 00°19'41"E</text>
<text class="d" x="658.8" y="761.4" font-size="23.4" textLength="93.2" lengthAdjust="spacingAndGlyphs" transform="rotate(-89.64 658.8 761.4)">PLACE</text>
<path d="M653.9 789.5 L676.8 789.5 L676.8 804.1 L653.9 804.1 Z" fill="none" stroke="#000" stroke-width="1.30"/>
<text class="s b" x="656.8" y="801.7" font-size="13.6" textLength="17.5" lengthAdjust="spacingAndGlyphs">15'</text>
<text class="s" x="209.6" y="852.9" font-size="31.4" textLength="334.1" lengthAdjust="spacingAndGlyphs" transform="rotate(-85.47 209.6 852.9)">N 04°47'16" E 686.90'</text>
<text class="s i" x="55.5" y="859.1" font-size="23.9" textLength="226.7" lengthAdjust="spacingAndGlyphs" transform="rotate(-89.61 55.5 859.1)">(BASIS OF BEARING)</text>
<text class="s b" x="73.8" y="788.4" font-size="12.5" textLength="133.9" lengthAdjust="spacingAndGlyphs" transform="rotate(-89.50 73.8 788.4)">N 00°28'25" E 2655.39'</text>
<text class="d" x="112.2" y="936.7" font-size="27.7" textLength="382.0" lengthAdjust="spacingAndGlyphs" transform="rotate(-89.36 112.2 936.7)">S. MAPLE GROVE ROAD</text>
<text class="s b" x="135.9" y="783.8" font-size="13.0" textLength="53.6" lengthAdjust="spacingAndGlyphs" transform="rotate(-89.17 135.9 783.8)">977.47'</text>
<text class="s b" x="345.5" y="556.3" font-size="16.3" textLength="136.2" lengthAdjust="spacingAndGlyphs" transform="rotate(10.51 345.5 556.3)">S 79°03'34" E</text>
<text class="s b" x="382.4" y="533.0" font-size="16.3" textLength="69.1" lengthAdjust="spacingAndGlyphs" transform="rotate(10.36 382.4 533.0)">251.09'</text>
<text class="s b" x="271.7" y="557.5" font-size="10.8" textLength="16.3" lengthAdjust="spacingAndGlyphs">10'</text>
<path d="M254.3 550.9 L271.7 550.5" fill="none" stroke="#000" stroke-width="1.80"/>
<path d="M254.3 550.9 L254.3 565.6 L289.2 588.5" fill="none" stroke="#000" stroke-width="1.80"/>
<text class="s b i" x="291.1" y="594.3" font-size="13.6" textLength="190.2" lengthAdjust="spacingAndGlyphs" transform="rotate(0.35 291.1 594.3)">Property drainage, irrigation,</text>
<text class="s b i" x="291.1" y="613.0" font-size="13.6" textLength="172.8" lengthAdjust="spacingAndGlyphs" transform="rotate(0.26 291.1 613.0)">Boise City sanitary sewer,</text>
<text class="s b i" x="291.1" y="631.2" font-size="13.6" textLength="192.2" lengthAdjust="spacingAndGlyphs" transform="rotate(0.35 291.1 631.2)">utility and access easement.</text>
<text class="s b" x="248.4" y="724.4" font-size="16.3" textLength="77.9" lengthAdjust="spacingAndGlyphs" transform="rotate(-85.43 248.4 724.4)">-250.00'-</text>
<text class="s" x="382.4" y="719.3" font-size="20.6" textLength="79.6" lengthAdjust="spacingAndGlyphs">LOT 23</text>
<text class="d" x="352.5" y="763.2" font-size="21.3" textLength="135.9" lengthAdjust="spacingAndGlyphs">BLOCK 1</text>
<text class="s b" x="384.3" y="857.5" font-size="16.3" textLength="66.0" lengthAdjust="spacingAndGlyphs" transform="rotate(2.02 384.3 857.5)">299.24'</text>
<text class="s b" x="349.4" y="881.6" font-size="16.3" textLength="136.0" lengthAdjust="spacingAndGlyphs" transform="rotate(2.45 349.4 881.6)">S 87°50'23" E</text>
<text class="s b" x="218.6" y="1040.0" font-size="16.3" textLength="71.3" lengthAdjust="spacingAndGlyphs" transform="rotate(-85.31 218.6 1040.0)">-221.90'</text>
<text class="s" x="351.3" y="1010.5" font-size="20.6" textLength="78.8" lengthAdjust="spacingAndGlyphs">LOT 24</text>
<text class="s b i" x="330.7" y="1040.0" font-size="13.6" textLength="267.1" lengthAdjust="spacingAndGlyphs" transform="rotate(0.17 330.7 1040.0)">Permanent easement for public utilities,</text>
<text class="s b i" x="330.7" y="1058.2" font-size="13.6" textLength="251.6" lengthAdjust="spacingAndGlyphs" transform="rotate(0.18 330.7 1058.2)">drainage, and Boise City street lights</text>
<path d="M600.9 1038.4 L610.2 1038.8 L636.6 1083.5" fill="none" stroke="#000" stroke-width="1.80"/>
<path d="M267.5 421.0 L258.1 519.5" fill="none" stroke="#000" stroke-width="2.10" stroke-dasharray="17 12"/>
<path d="M258.1 519.5 L246.3 647.2" fill="none" stroke="#000" stroke-width="2.10" stroke-dasharray="17 12"/>
<path d="M239.5 721.2 L227.0 855.7" fill="none" stroke="#000" stroke-width="2.10" stroke-dasharray="17 12"/>
<path d="M227.0 855.7 L216.7 965.8" fill="none" stroke="#000" stroke-width="2.10" stroke-dasharray="17 12"/>
<path d="M187.3 1156.5 C187.6 1159.0 186.9 1167.0 188.7 1172.0 C190.5 1177.0 194.5 1182.8 198.4 1186.5 C202.3 1190.3 207.2 1192.6 212.0 1194.3 C216.8 1196.0 224.6 1196.4 227.1 1196.8" fill="none" stroke="#000" stroke-width="3.00"/>
<path d="M227.1 1196.8 L313.9 1198.2" fill="none" stroke="#000" stroke-width="3.00"/>
<path d="M313.9 1198.2 C323.4 1197.4 351.9 1196.4 371.1 1193.7 C390.4 1191.0 412.7 1186.0 429.4 1182.1 C446.0 1178.2 464.2 1172.4 471.1 1170.4" fill="none" stroke="#000" stroke-width="3.00"/>
<path d="M471.1 1170.4 L637.5 1106.3" fill="none" stroke="#000" stroke-width="3.00"/>
<rect x="179.5" y="1145.3" width="16.4" height="16.4" fill="#fff" stroke="#000" stroke-width="2.2"/>
<rect x="179.5" y="1145.3" width="8.2" height="8.2" fill="#000"/>
<rect x="187.7" y="1153.5" width="8.2" height="8.2" fill="#000"/>
<circle cx="227.1" cy="1196.8" r="4.6" fill="#fff" stroke="#000" stroke-width="1.80"/>
<circle cx="313.9" cy="1198.2" r="4.6" fill="#fff" stroke="#000" stroke-width="1.80"/>
<circle cx="471.1" cy="1170.4" r="4.6" fill="#fff" stroke="#000" stroke-width="1.80"/>
<path d="M314.9 1184.6 C324.2 1184.3 352.1 1185.2 371.1 1182.7 C390.2 1180.2 412.7 1174.0 429.4 1169.7 C446.0 1165.3 464.2 1158.7 471.1 1156.5" fill="none" stroke="#000" stroke-width="2.10" stroke-dasharray="20 14"/>
<path d="M471.1 1156.5 L639.0 1097.8" fill="none" stroke="#000" stroke-width="2.10" stroke-dasharray="20 14"/>
<path d="M208.5 1040.0 C208.6 1042.9 207.7 1053.5 209.1 1057.5 C210.5 1061.4 215.5 1062.6 216.8 1063.7" fill="none" stroke="#000" stroke-width="2.00"/>
<path d="M229.5 1075.9 L243.0 1085.0" fill="none" stroke="#000" stroke-width="2.10"/>
<path d="M254.7 1093.4 L269.2 1103.1" fill="none" stroke="#000" stroke-width="2.10"/>
<path d="M269.2 1103.1 L307.1 1078.8 L319.7 1076.9" fill="none" stroke="#000" stroke-width="2.10"/>
<path d="M279.9 1112.8 L293.5 1121.5" fill="none" stroke="#000" stroke-width="2.10"/>
<path d="M303.2 1130.3 L312.9 1135.5 L314.5 1160.3" fill="none" stroke="#000" stroke-width="2.10"/>
<path d="M314.1 1173.9 L314.1 1194.3" fill="none" stroke="#000" stroke-width="2.10"/>
<text class="s b i" x="321.7" y="1084.6" font-size="13.6" textLength="188.3" lengthAdjust="spacingAndGlyphs" transform="rotate(0.47 321.7 1084.6)">Property drainage, irrigation,</text>
<text class="s b i" x="321.7" y="1103.1" font-size="13.6" textLength="171.8" lengthAdjust="spacingAndGlyphs" transform="rotate(0.32 321.7 1103.1)">Boise City sanitary sewer,</text>
<text class="s b i" x="321.7" y="1120.6" font-size="13.6" textLength="190.2" lengthAdjust="spacingAndGlyphs" transform="rotate(0.29 321.7 1120.6)">utility and access easement.</text>
<path d="M111.1 1123.5 L110.7 1164.2" fill="none" stroke="#000" stroke-width="1.80"/>
<path d="M112.0 1152.6 L157.6 1152.6" fill="none" stroke="#000" stroke-width="1.80"/>
<path d="M165.4 1152.6 L177.0 1152.6" fill="none" stroke="#000" stroke-width="1.80"/>
<path d="M110.1 1175.9 L109.5 1232.2" fill="none" stroke="#000" stroke-width="1.80"/>
<path d="M109.1 1246.7 L204.2 1247.1" fill="none" stroke="#000" stroke-width="2.00"/>
<path d="M204.2 1239.9 L204.2 1255.5" fill="none" stroke="#000" stroke-width="1.80"/>
<text class="s b" x="105.2" y="1134.1" font-size="10.3" textLength="95.1" lengthAdjust="spacingAndGlyphs" transform="rotate(0.23 105.2 1134.1)">S 89°33'40" E</text>
<text class="s b" x="124.6" y="1145.8" font-size="10.3" textLength="38.8" lengthAdjust="spacingAndGlyphs">54.44'</text>
<text class="s b i" x="125.6" y="1217.0" font-size="10.8" textLength="41.2" lengthAdjust="spacingAndGlyphs" transform="rotate(-89.19 125.6 1217.0)">70.27'</text>
<text class="s b" x="126.6" y="1308.6" font-size="11.4" textLength="53.2" lengthAdjust="spacingAndGlyphs" transform="rotate(-89.16 126.6 1308.6)">1878.12'</text>
<text class="s" x="162.5" y="1223.8" font-size="25.8" textLength="17.5" lengthAdjust="spacingAndGlyphs">N</text>
<text class="s" x="202.3" y="1225.8" font-size="25.8" textLength="163.1" lengthAdjust="spacingAndGlyphs" transform="rotate(1.23 202.3 1225.8)">89°33'40"W</text>
<text class="s" x="233.3" y="1252.9" font-size="25.8" textLength="85.8" lengthAdjust="spacingAndGlyphs" transform="rotate(0.65 233.3 1252.9)">63.42'</text>
<text class="s b" x="207.1" y="1253.5" font-size="16.3" textLength="13.6" lengthAdjust="spacingAndGlyphs">R</text>
<text class="s" x="388.6" y="1217.0" font-size="25.8" textLength="34.0" lengthAdjust="spacingAndGlyphs" transform="rotate(-10.54 388.6 1217.0)">C7</text>
<text class="s" x="171.2" y="1184.6" font-size="24.4" textLength="35.1" lengthAdjust="spacingAndGlyphs" transform="rotate(48.37 171.2 1184.6)">C8</text>
<text class="s" x="461.1" y="1199.5" font-size="27.2" textLength="215.0" lengthAdjust="spacingAndGlyphs" transform="rotate(-20.67 461.1 1199.5)">S 68°18'46" W</text>
<text class="s" x="523.3" y="1207.2" font-size="27.2" textLength="101.3" lengthAdjust="spacingAndGlyphs" transform="rotate(-18.37 523.3 1207.2)">130.33'</text>
<text class="s b" x="488.3" y="1214.2" font-size="16.3" textLength="17.9" lengthAdjust="spacingAndGlyphs" transform="rotate(-12.53 488.3 1214.2)">R</text>
<path d="M319.1 1248.1 C330.7 1246.8 369.0 1243.3 389.1 1240.3 C409.2 1237.3 423.6 1234.0 439.7 1230.2 C455.8 1226.4 470.3 1221.9 485.6 1217.7" fill="none" stroke="#000" stroke-width="2.30"/>
<path d="M627.2 1160.9 C646.4 1152.8 666.0 1144.9 684.8 1136.4 C703.6 1128.0 719.3 1119.4 740.1 1110.4 C760.9 1101.3 786.4 1090.5 809.7 1082.3 C833.0 1074.2 856.5 1066.8 879.8 1061.3 C903.0 1055.9 920.8 1052.0 949.4 1049.6 C978.1 1047.3 1024.6 1047.6 1051.8 1047.3 C1078.9 1047.0 1102.0 1047.6 1112.1 1047.7" fill="none" stroke="#000" stroke-width="2.30"/>
<path d="M280.2 1302.6 C291.8 1301.8 325.6 1301.3 350.2 1297.9 C374.8 1294.5 395.6 1292.4 428.0 1282.3 C460.4 1272.3 505.8 1253.7 544.7 1237.6 C583.7 1221.5 636.2 1195.4 661.5 1185.8 C686.8 1176.3 686.8 1179.5 696.5 1180.4 C706.2 1181.2 714.1 1185.3 719.8 1190.9 C725.6 1196.5 728.9 1210.4 730.7 1214.2" fill="none" stroke="#000" stroke-width="2.60"/>
<text class="d" x="278.2" y="1432.1" font-size="21.4" textLength="480.2" lengthAdjust="spacingAndGlyphs" transform="rotate(-20.64 278.2 1432.1)">CENTURY LANDMARK CENTER</text>
<circle cx="107.8" cy="1400.6" r="8.6" fill="#fff" stroke="#000" stroke-width="2.0"/>
<path d="M107.8 1400.6 L99.2 1400.6 A8.6 8.6 0 0 1 107.8 1392.0 Z" fill="#000"/>
<path d="M107.8 1400.6 L116.4 1400.6 A8.6 8.6 0 0 1 107.8 1409.2 Z" fill="#000"/>
<path d="M40.0 1400.1 L56.1 1400.1" fill="none" stroke="#000" stroke-width="1.80"/>
<path d="M90.5 1400.1 L125.0 1400.1" fill="none" stroke="#000" stroke-width="1.80"/>
<path d="M159.5 1401.0 L177.9 1401.0" fill="none" stroke="#000" stroke-width="1.80"/>
<path d="M107.8 1383.3 L107.8 1417.8" fill="none" stroke="#000" stroke-width="1.80"/>
<path d="M107.1 1452.3 L106.6 1468.3" fill="none" stroke="#000" stroke-width="2.20"/>
<circle cx="107.8" cy="1433.9" r="1.2" fill="#000"/>
<path d="M115.8 1393.7 L157.2 1343.6 L176.0 1342.7" fill="none" stroke="#000" stroke-width="2.00"/>
<text class="s" x="180.1" y="1349.6" font-size="18.6" textLength="186.1" lengthAdjust="spacingAndGlyphs" transform="rotate(0.28 180.1 1349.6)">SECTION CORNER</text>
<text class="s b" x="180.6" y="1366.1" font-size="12.2" textLength="174.2" lengthAdjust="spacingAndGlyphs" transform="rotate(0.15 180.6 1366.1)">FOUND ALUMINUM CAP</text>
<text class="s b" x="180.6" y="1384.0" font-size="12.2" textLength="168.4" lengthAdjust="spacingAndGlyphs" transform="rotate(0.16 180.6 1384.0)">C.P.&amp;F. NO. 97011707</text>
<text class="s b" x="67.6" y="1393.7" font-size="18.6" textLength="21.8" lengthAdjust="spacingAndGlyphs">14</text>
<text class="s b" x="131.9" y="1393.7" font-size="18.6" textLength="21.8" lengthAdjust="spacingAndGlyphs">13</text>
<text class="s b" x="64.1" y="1421.7" font-size="18.6" textLength="25.3" lengthAdjust="spacingAndGlyphs">23</text>
<text class="s b" x="130.8" y="1422.4" font-size="18.6" textLength="25.3" lengthAdjust="spacingAndGlyphs">24</text>
<path d="M110.1 1265.0 L109.6 1317.9" fill="none" stroke="#000" stroke-width="2.10"/>
<path d="M109.6 1313.3 L133.0 1330.5" fill="none" stroke="#000" stroke-width="2.00"/>
<path d="M84.8 1317.9 L108.9 1334.4" fill="none" stroke="#000" stroke-width="2.00"/>
<path d="M108.9 1334.4 L108.9 1350.0" fill="none" stroke="#000" stroke-width="2.10"/>
<path d="M110.1 1180.0 L110.1 1231.7" fill="none" stroke="#000" stroke-width="2.10"/>
<path d="M110.1 1246.6 L204.3 1247.1" fill="none" stroke="#000" stroke-width="2.10"/>
<path d="M1062.1 388.2 L1053.2 1004.4" fill="none" stroke="#000" stroke-width="2.10"/>
<path d="M1328.0 490.0 L1320.3 1008.6" fill="none" stroke="#000" stroke-width="2.10"/>
<path d="M1563.0 621.5 L1557.8 1012.6" fill="none" stroke="#000" stroke-width="2.10"/>
<circle cx="1062.1" cy="388.2" r="3.1" fill="#000"/>
<circle cx="1328.0" cy="490.0" r="3.1" fill="#000"/>
<circle cx="1563.0" cy="621.5" r="3.1" fill="#000"/>
<circle cx="1059.0" cy="585.0" r="3.1" fill="#000"/>
<circle cx="1057.5" cy="776.8" r="3.1" fill="#000"/>
<circle cx="1053.2" cy="1004.4" r="3.1" fill="#000"/>
<circle cx="1557.8" cy="1012.6" r="3.1" fill="#000"/>
<ellipse cx="1320.3" cy="1008.6" rx="7" ry="3.6" fill="#000"/>
<path d="M1029.0 1004.0 L1831.4 1017.3" fill="none" stroke="#000" stroke-width="3.00" stroke-dasharray="60 6 14 6 14 6 200 6 14 6 14 6 150 6 14 6 14 6 300"/>
<path d="M1831.4 1017.3 A559.0 559.0 0 0 1 2017.2 1052.8" fill="none" stroke="#000" stroke-width="3.00"/>
<path d="M1831.7 1003.7 A572.6 572.6 0 0 1 2022.0 1040.1" fill="none" stroke="#000" stroke-width="2.10" stroke-dasharray="17 12"/>
<path d="M2021.7 1039.9 L2228.5 1111.6" fill="none" stroke="#000" stroke-width="2.10" stroke-dasharray="17 12"/>
<path d="M2017.2 1052.8 L2457.2 1205.3" fill="none" stroke="#000" stroke-width="3.00" stroke-dasharray="103 8 15 8 15 8 148 8 15 8 15 8 1000"/>
<path d="M1053.0 990.8 L1831.6 1003.7" fill="none" stroke="#000" stroke-width="2.10" stroke-dasharray="17 12"/>
<path d="M880.6 356.8 C940.6 368.1 1007.9 387.1 1058.4 401.3 C1108.9 415.5 1139.5 425.0 1183.4 441.8 C1227.3 458.6 1259.7 470.2 1321.8 502.1 C1383.9 534.0 1501.1 600.6 1556.1 633.2 C1611.1 665.8 1621.1 674.4 1651.8 697.6" fill="none" stroke="#000" stroke-width="2.10" stroke-dasharray="17 12"/>
<path d="M1650.7 699.1 L2072.2 1016.4" fill="none" stroke="#000" stroke-width="2.10" stroke-dasharray="17 12"/>
<path d="M2072.5 1016.0 C2093.9 1032.1 2118.8 1048.0 2139.0 1061.0 C2159.2 1074.0 2177.4 1084.4 2193.7 1094.1 C2210.0 1103.8 2229.7 1115.1 2236.9 1119.3" fill="none" stroke="#000" stroke-width="2.10" stroke-dasharray="17 12"/>
<path d="M1769.0 778.8 L2009.2 959.6" fill="none" stroke="#000" stroke-width="2.30" stroke-dasharray="15 10"/>
<circle cx="883.1" cy="343.4" r="5.6" fill="#fff" stroke="#000" stroke-width="2.0"/>
<path d="M883.1 343.4 L877.5 343.4 A5.6 5.6 0 0 1 883.1 337.8 Z" fill="#000"/>
<path d="M883.1 343.4 L888.7 343.4 A5.6 5.6 0 0 1 883.1 349.0 Z" fill="#000"/>
<circle cx="1660.0" cy="686.7" r="5.6" fill="#fff" stroke="#000" stroke-width="2.0"/>
<path d="M1660.0 686.7 L1654.4 686.7 A5.6 5.6 0 0 1 1660.0 681.1 Z" fill="#000"/>
<path d="M1660.0 686.7 L1665.6 686.7 A5.6 5.6 0 0 1 1660.0 692.3 Z" fill="#000"/>
<circle cx="2081.5" cy="1004.0" r="5.6" fill="#fff" stroke="#000" stroke-width="2.0"/>
<path d="M2081.5 1004.0 L2075.9 1004.0 A5.6 5.6 0 0 1 2081.5 998.4 Z" fill="#000"/>
<path d="M2081.5 1004.0 L2087.1 1004.0 A5.6 5.6 0 0 1 2081.5 1009.6 Z" fill="#000"/>
<circle cx="272.1" cy="228.5" r="5.8" fill="#fff" stroke="#000" stroke-width="2.2"/>
<path d="M272.1 228.5 L266.3 228.5 A5.8 5.8 0 0 1 272.1 222.7 Z" fill="#000"/>
<path d="M272.1 228.5 L277.9 228.5 A5.8 5.8 0 0 1 272.1 234.3 Z" fill="#000"/>
<circle cx="1029.0" cy="1004.0" r="4.6" fill="#fff" stroke="#000" stroke-width="1.80"/>
<circle cx="1831.4" cy="1017.3" r="4.6" fill="#fff" stroke="#000" stroke-width="1.80"/>
<circle cx="2017.2" cy="1052.8" r="4.6" fill="#fff" stroke="#000" stroke-width="1.80"/>
<circle cx="2457.2" cy="1205.3" r="4.6" fill="#fff" stroke="#000" stroke-width="1.80"/>
<text class="s b h" x="720.1" y="328.0" font-size="16.3" textLength="102.8" lengthAdjust="spacingAndGlyphs" transform="rotate(10.89 720.1 328.0)">-157.89'-</text>
<text class="s b h" x="933.6" y="373.4" font-size="16.3" textLength="67.2" lengthAdjust="spacingAndGlyphs" transform="rotate(10.66 933.6 373.4)">-C23-</text>
<text class="d" x="836.6" y="229.0" font-size="21.3" textLength="250.3" lengthAdjust="spacingAndGlyphs" transform="rotate(10.00 836.6 229.0)">INTERSTATE 84</text>
<text class="s b" x="1052.4" y="517.1" font-size="16.3" textLength="59.8" lengthAdjust="spacingAndGlyphs" transform="rotate(-88.88 1052.4 517.1)">147.23'</text>
<text class="s b h" x="1182.5" y="446.4" font-size="16.3" textLength="70.2" lengthAdjust="spacingAndGlyphs" transform="rotate(20.04 1182.5 446.4)">-C24-</text>
<text class="s" x="1274.8" y="452.3" font-size="27.1" textLength="37.6" lengthAdjust="spacingAndGlyphs" transform="rotate(18.06 1274.8 452.3)">C1</text>
<text class="s b" x="1163.0" y="467.8" font-size="11.9" textLength="10.5" lengthAdjust="spacingAndGlyphs" transform="rotate(21.80 1163.0 467.8)">4'</text>
<path d="M1189.1 419.3 L1189.1 432.1" fill="none" stroke="#000" stroke-width="1.80"/>
<path d="M1170.8 438.7 L1166.9 456.1" fill="none" stroke="#000" stroke-width="1.80"/>
<path d="M1298.9 492.2 L1264.0 520.2" fill="none" stroke="#000" stroke-width="2.60"/>
<text class="s b i" x="1091.2" y="533.8" font-size="13.6" textLength="163.0" lengthAdjust="spacingAndGlyphs" transform="rotate(0.27 1091.2 533.8)">Permanent easement for</text>
<text class="s b i" x="1090.1" y="551.6" font-size="13.6" textLength="187.5" lengthAdjust="spacingAndGlyphs" transform="rotate(0.24 1090.1 551.6)">public utilities, drainage, and</text>
<text class="s b i" x="1090.1" y="568.0" font-size="13.6" textLength="153.7" lengthAdjust="spacingAndGlyphs" transform="rotate(0.29 1090.1 568.0)">Boise City street lights</text>
<text class="s b" x="1052.4" y="710.8" font-size="16.8" textLength="59.0" lengthAdjust="spacingAndGlyphs" transform="rotate(-88.87 1052.4 710.8)">140.00'</text>
<text class="s b" x="1083.1" y="800.9" font-size="16.3" textLength="209.3" lengthAdjust="spacingAndGlyphs" transform="rotate(-89.26 1083.1 800.9)">N 00°28'35" E 454.31'</text>
<text class="s b" x="1051.6" y="919.7" font-size="16.8" textLength="60.6" lengthAdjust="spacingAndGlyphs" transform="rotate(-88.90 1051.6 919.7)">167.08'</text>
<text class="s" x="1150.6" y="717.8" font-size="20.6" textLength="76.5" lengthAdjust="spacingAndGlyphs">LOT 18</text>
<text class="s b" x="1319.1" y="781.5" font-size="16.8" textLength="62.1" lengthAdjust="spacingAndGlyphs" transform="rotate(-88.93 1319.1 781.5)">380.65'</text>
<text class="s b" x="1344.7" y="814.5" font-size="16.3" textLength="133.9" lengthAdjust="spacingAndGlyphs" transform="rotate(-89.17 1344.7 814.5)">N 00°28'35" E</text>
<text class="s" x="1395.2" y="792.3" font-size="20.6" textLength="75.7" lengthAdjust="spacingAndGlyphs">LOT 17</text>
<text class="d" x="1360.2" y="840.9" font-size="21.3" textLength="135.9" lengthAdjust="spacingAndGlyphs">BLOCK 1</text>
<text class="s b" x="1554.0" y="849.4" font-size="16.8" textLength="67.9" lengthAdjust="spacingAndGlyphs" transform="rotate(-89.02 1554.0 849.4)">285.64'</text>
<text class="s b" x="1580.4" y="884.3" font-size="16.3" textLength="135.5" lengthAdjust="spacingAndGlyphs" transform="rotate(-89.18 1580.4 884.3)">N 00°28'35" E</text>
<text class="s" x="1694.9" y="903.0" font-size="20.6" textLength="75.7" lengthAdjust="spacingAndGlyphs">LOT 16</text>
<text class="s b h" x="1417.3" y="554.0" font-size="16.3" textLength="65.3" lengthAdjust="spacingAndGlyphs" transform="rotate(26.87 1417.3 554.0)">-C22-</text>
<text class="s b h" x="1584.2" y="652.6" font-size="16.3" textLength="59.7" lengthAdjust="spacingAndGlyphs" transform="rotate(32.24 1584.2 652.6)">-C25-</text>
<text class="s" x="1746.1" y="737.2" font-size="26.3" textLength="338.2" lengthAdjust="spacingAndGlyphs" transform="rotate(36.20 1746.1 737.2)">S 53°46'58" E 388.64'</text>
<text class="s b h" x="1000.0" y="998.1" font-size="16.3" textLength="44.6" lengthAdjust="spacingAndGlyphs" transform="rotate(0.50 1000.0 998.1)">17.77'</text>
<text class="s b h" x="1143.6" y="997.7" font-size="16.3" textLength="85.4" lengthAdjust="spacingAndGlyphs" transform="rotate(0.78 1143.6 997.7)">-195.00'-</text>
<text class="s b h" x="1397.9" y="1001.2" font-size="16.3" textLength="80.4" lengthAdjust="spacingAndGlyphs" transform="rotate(0.83 1397.9 1001.2)">-172.40'-</text>
<text class="s b h" x="1654.1" y="1005.1" font-size="16.3" textLength="80.4" lengthAdjust="spacingAndGlyphs" transform="rotate(0.83 1654.1 1005.1)">-200.17'-</text>
<text class="s" x="1258.2" y="1040.8" font-size="26.0" textLength="345.5" lengthAdjust="spacingAndGlyphs" transform="rotate(0.97 1258.2 1040.8)">N 89°31'25" W 585.33'</text>
<text class="d" x="1161.0" y="1079.5" font-size="21.3" textLength="369.0" lengthAdjust="spacingAndGlyphs" transform="rotate(0.85 1161.0 1079.5)">W. HACKAMORE DRIVE</text>
<path d="M1274.8 992.3 L1274.8 899.1 L1359.1 899.1 L1359.1 992.3" fill="none" stroke="#000" stroke-width="2.10" stroke-dasharray="22 12"/>
<text class="s b i" x="1075.7" y="875.8" font-size="13.6" textLength="159.2" lengthAdjust="spacingAndGlyphs" transform="rotate(0.28 1075.7 875.8)">Cross-Access Easement</text>
<text class="s b i" x="1075.7" y="895.2" font-size="13.6" textLength="169.6" lengthAdjust="spacingAndGlyphs" transform="rotate(0.26 1075.7 895.2)">Instrument No. 98097587</text>
<path d="M1242.6 874.6 L1267.9 874.6 L1293.1 897.1" fill="none" stroke="#000" stroke-width="1.80"/>
<text class="s b i" x="1064.1" y="928.2" font-size="13.6" textLength="163.0" lengthAdjust="spacingAndGlyphs" transform="rotate(0.27 1064.1 928.2)">Permanent easement for</text>
<text class="s b i" x="1064.1" y="945.7" font-size="13.6" textLength="188.3" lengthAdjust="spacingAndGlyphs" transform="rotate(0.24 1064.1 945.7)">public utilities, drainage, and</text>
<text class="s b i" x="1064.1" y="963.1" font-size="13.6" textLength="151.4" lengthAdjust="spacingAndGlyphs" transform="rotate(0.29 1064.1 963.1)">Boise City street lights</text>
<path d="M1248.4 932.1 L1258.5 932.9 L1267.9 992.3" fill="none" stroke="#000" stroke-width="1.80"/>
<path d="M1128.1 982.5 L1128.1 992.3" fill="none" stroke="#000" stroke-width="1.80"/>
<path d="M803.4 1044.8 C809.1 1042.8 825.1 1037.2 837.8 1033.1 C850.6 1029.0 866.6 1023.7 879.8 1020.1 C893.0 1016.5 905.4 1013.7 917.0 1011.4 C928.7 1009.2 938.0 1008.0 949.6 1006.8 C961.3 1005.6 973.7 1004.9 986.9 1004.5 C1000.1 1004.0 1021.8 1004.1 1028.8 1004.0" fill="none" stroke="#000" stroke-width="3.00" stroke-dasharray="90 3 17 9 17 10 400"/>
<path d="M779.6 1035.0 C788.5 1032.2 816.5 1023.0 833.2 1018.4 C849.9 1013.9 864.2 1010.9 879.8 1007.5 C895.3 1004.0 906.9 1000.5 926.3 997.7 C945.7 994.9 975.1 992.0 996.2 990.7 C1017.4 989.4 1043.8 989.9 1053.3 989.8" fill="none" stroke="#000" stroke-width="2.10" stroke-dasharray="17 12"/>
<path d="M1053.3 989.3 L1053.3 1004.5" fill="none" stroke="#000" stroke-width="1.80"/>
<rect x="798.9" y="1040.3" width="9" height="9" fill="#fff" stroke="#000" stroke-width="2"/>
<text class="s" x="900.7" y="1042.9" font-size="26.0" textLength="33.8" lengthAdjust="spacingAndGlyphs" transform="rotate(-3.16 900.7 1042.9)">C4</text>
<text class="s" x="743.5" y="1058.7" font-size="26.0" textLength="33.9" lengthAdjust="spacingAndGlyphs" transform="rotate(21.80 743.5 1058.7)">C5</text>
<path d="M1052.1 1047.5 L1112.7 1048.0" fill="none" stroke="#000" stroke-width="2.10"/>
<path d="M1147.6 1048.7 L1180.2 1048.9" fill="none" stroke="#000" stroke-width="2.10"/>
<path d="M1215.2 1049.4 L1301.3 1050.1" fill="none" stroke="#000" stroke-width="2.10"/>
<text class="s b" x="1067.3" y="1056.9" font-size="11.7" textLength="21.4" lengthAdjust="spacingAndGlyphs" transform="rotate(-90.00 1067.3 1056.9)">62'</text>
<path d="M1053.7 1034.7 L1068.4 1034.7 L1068.4 1057.3 L1053.7 1057.3 Z" fill="none" stroke="#000" stroke-width="1.20"/>
<path d="M1127.8 1004.5 L1127.8 1017.3" fill="none" stroke="#000" stroke-width="1.80"/>
<text class="s b" x="1134.8" y="1035.4" font-size="7.2" transform="rotate(-90.00 1134.8 1035.4)">10'</text>
<path d="M805.9 1180.8 C805.2 1176.8 800.7 1165.2 801.7 1157.0 C802.8 1148.8 805.0 1138.8 812.2 1131.4 C819.4 1124.0 825.8 1119.0 844.8 1112.8 C863.8 1106.6 901.1 1098.3 926.3 1094.1 C951.6 1089.9 984.6 1088.7 996.2 1087.6" fill="none" stroke="#000" stroke-width="2.60"/>
<path d="M996.2 1087.6 L1229.1 1088.3" fill="none" stroke="#000" stroke-width="2.60"/>
<path d="M1229.1 1088.3 C1233.0 1089.7 1245.8 1092.0 1252.4 1096.5 C1259.0 1100.9 1265.4 1108.6 1268.7 1115.1 C1272.1 1121.6 1272.0 1132.2 1272.7 1135.6" fill="none" stroke="#000" stroke-width="2.60"/>
<path d="M1314.2 1052.2 L1314.2 1136.1" fill="none" stroke="#000" stroke-width="2.10"/>
<path d="M702.7 1033.1 L740.0 1117.4 L768.4 1194.8" fill="none" stroke="#000" stroke-width="2.00"/>
<text class="d" x="767.5" y="1166.3" font-size="16.6" textLength="24.5" lengthAdjust="spacingAndGlyphs" transform="rotate(72.26 767.5 1166.3)">S.</text>
<text class="d" x="782.9" y="1217.0" font-size="21.4" textLength="273.3" lengthAdjust="spacingAndGlyphs" transform="rotate(70.02 782.9 1217.0)">ALLANTE AVENUE</text>
<path d="M1361.9 1134.5 C1362.9 1130.0 1362.5 1114.3 1367.7 1107.2 C1372.9 1100.1 1383.0 1094.8 1393.0 1091.7 C1403.0 1088.6 1422.2 1089.1 1428.0 1088.6" fill="none" stroke="#000" stroke-width="2.60"/>
<path d="M1428.0 1088.6 L1817.1 1099.5" fill="none" stroke="#000" stroke-width="2.60"/>
<path d="M1817.1 1099.5 C1823.6 1100.8 1846.6 1102.0 1856.0 1107.2 C1865.4 1112.4 1870.2 1121.8 1873.5 1130.6 C1876.8 1139.4 1875.6 1155.1 1876.0 1160.0" fill="none" stroke="#000" stroke-width="2.60"/>
<path d="M1876.0 1160.0 L1876.1 1181.5 L1957.6 1181.5" fill="none" stroke="#000" stroke-width="2.80"/>
<path d="M1957.6 1181.5 C1957.9 1178.9 1956.8 1172.0 1959.5 1165.8 C1962.2 1159.6 1968.4 1149.3 1974.1 1144.4 C1979.8 1139.5 1986.4 1137.7 1993.5 1136.6 C2000.6 1135.5 2012.9 1137.4 2016.8 1137.6" fill="none" stroke="#000" stroke-width="2.60"/>
<path d="M2016.8 1137.6 L2585.6 1344.6" fill="none" stroke="#000" stroke-width="2.60"/>
<path d="M1917.4 1066.8 L1916.8 1181.3" fill="none" stroke="#000" stroke-width="2.10"/>
<path d="M1559.0 1056.3 L1593.9 1057.1" fill="none" stroke="#000" stroke-width="2.10"/>
<path d="M1316.0 1052.6 L1523.0 1055.8" fill="none" stroke="#000" stroke-width="1.80"/>
<path d="M1625.0 1057.0 C1647.5 1057.1 1721.2 1057.2 1760.0 1057.5 C1798.8 1057.8 1831.6 1057.6 1857.6 1059.0 C1883.6 1060.4 1896.5 1061.6 1915.9 1065.8 C1935.3 1070.0 1951.8 1077.0 1974.1 1084.2 C1996.4 1091.4 2025.4 1100.9 2050.0 1109.0 C2074.6 1117.1 2109.7 1128.8 2121.6 1132.8" fill="none" stroke="#000" stroke-width="2.10"/>
<path d="M2154.6 1145.4 L2187.6 1156.0" fill="none" stroke="#000" stroke-width="2.10"/>
<path d="M2217.9 1169.5 L2383.3 1225.9" fill="none" stroke="#000" stroke-width="2.10"/>
<path d="M2414.4 1237.6 L2447.5 1248.1" fill="none" stroke="#000" stroke-width="2.10"/>
<path d="M2478.6 1262.1 L2601.2 1305.7" fill="none" stroke="#000" stroke-width="2.10"/>
<path d="M2457.2 1205.3 L2620.6 1251.2" fill="none" stroke="#000" stroke-width="2.30"/>
<path d="M2457.2 1205.3 L2616.7 1266.8" fill="none" stroke="#000" stroke-width="2.30"/>
<path d="M2465.0 1204.5 L2505.8 1180.4" fill="none" stroke="#000" stroke-width="2.20"/>
<text class="s" x="2509.7" y="1167.5" font-size="27.2" textLength="206.2" lengthAdjust="spacingAndGlyphs" transform="rotate(0.32 2509.7 1167.5)">S 19°51'10" W</text>
<text class="s" x="2511.7" y="1193.6" font-size="24.5" textLength="70.0" lengthAdjust="spacingAndGlyphs" transform="rotate(0.32 2511.7 1193.6)">4.80'</text>
<text class="d" x="2645.9" y="1269.9" font-size="20.3" textLength="334.6" lengthAdjust="spacingAndGlyphs" transform="rotate(0.27 2645.9 1269.9)">CENTURY LANDMARK</text>
<text class="d" x="2645.9" y="1297.9" font-size="20.3" textLength="235.4" lengthAdjust="spacingAndGlyphs" transform="rotate(0.19 2645.9 1297.9)">CENTER NO. 4</text>
<text class="s" x="2252.9" y="1097.5" font-size="27.2" textLength="38.8" lengthAdjust="spacingAndGlyphs" transform="rotate(25.54 2252.9 1097.5)">C2</text>
<text class="s" x="2062.3" y="1100.2" font-size="25.5" textLength="340.9" lengthAdjust="spacingAndGlyphs" transform="rotate(19.68 2062.3 1100.2)">N 70°08'50" W 339.13'</text>
<text class="s" x="1904.2" y="1056.1" font-size="25.8" textLength="34.0" lengthAdjust="spacingAndGlyphs" transform="rotate(1.64 1904.2 1056.1)">C3</text>
<text class="d" x="1189.9" y="1180.4" font-size="21.4" textLength="600.0" lengthAdjust="spacingAndGlyphs" transform="rotate(0.15 1189.9 1180.4)">CENTURY LANDMARK CENTER NO. 2</text>
<path d="M1314.4 1056.7 L1314.4 1134.5" fill="none" stroke="#000" stroke-width="2.10"/>
<circle cx="1093.2" cy="1355.2" r="181.0" fill="none" stroke="#000" stroke-width="2.60" stroke-dasharray="38 13"/>
<path d="M927.5 1282.5 L977.5 1426.3" fill="none" stroke="#000" stroke-width="2.30"/>
<path d="M977.5 1426.3 C978.7 1430.8 983.0 1445.4 984.7 1453.7 C986.3 1462.1 986.9 1468.5 987.2 1476.3 C987.6 1484.1 986.7 1496.5 986.6 1500.6" fill="none" stroke="#000" stroke-width="2.30"/>
<path d="M975.9 1489.3 L987.2 1500.6" fill="none" stroke="#000" stroke-width="2.10"/>
<path d="M1037.3 1183.9 L1090.6 1369.7" fill="none" stroke="#000" stroke-width="2.10"/>
<path d="M1103.6 1385.9 L1155.3 1521.6" fill="none" stroke="#000" stroke-width="2.10"/>
<path d="M1174.6 1193.6 L1223.1 1330.9" fill="none" stroke="#000" stroke-width="2.30"/>
<path d="M1223.1 1330.9 C1224.7 1335.2 1228.5 1349.2 1232.8 1356.8 C1237.1 1364.3 1242.5 1370.7 1248.9 1376.2 C1255.4 1381.7 1267.8 1387.5 1271.6 1389.7" fill="none" stroke="#000" stroke-width="2.50"/>
<path d="M977.5 1426.3 L1082.6 1384.2" fill="none" stroke="#000" stroke-width="3.00"/>
<path d="M1119.7 1371.3 L1223.1 1330.9" fill="none" stroke="#000" stroke-width="3.00"/>
<circle cx="1093.2" cy="1372.3" r="9.5" fill="#fff" stroke="#000" stroke-width="1.60"/>
<circle cx="1101.0" cy="1378.1" r="5.0" fill="#fff" stroke="#000" stroke-width="1.40"/>
<circle cx="977.5" cy="1426.3" r="5.0" fill="#000"/>
<circle cx="1082.6" cy="1384.2" r="5.0" fill="#000"/>
<circle cx="1119.7" cy="1371.3" r="5.0" fill="#000"/>
<circle cx="1223.1" cy="1330.9" r="5.0" fill="#000"/>
<path d="M1037.3 1364.9 C1039.7 1364.5 1046.7 1361.9 1051.9 1362.6 C1057.0 1363.3 1063.2 1366.5 1068.0 1369.1 C1072.9 1371.6 1078.8 1376.3 1080.9 1377.8" fill="none" stroke="#000" stroke-width="1.80"/>
<path d="M1143.9 1326.1 L1127.8 1329.6 L1111.6 1363.2" fill="none" stroke="#000" stroke-width="1.80"/>
<text class="s b" x="993.7" y="1383.3" font-size="16.2" textLength="37.0" lengthAdjust="spacingAndGlyphs" transform="rotate(-16.22 993.7 1383.3)">4.50'</text>
<text class="s b" x="1145.6" y="1327.1" font-size="16.2" textLength="41.8" lengthAdjust="spacingAndGlyphs" transform="rotate(-21.80 1145.6 1327.1)">4.50'</text>
<text class="s b" x="1003.4" y="1405.9" font-size="16.2" textLength="51.6" lengthAdjust="spacingAndGlyphs" transform="rotate(-20.14 1003.4 1405.9)">26.50'</text>
<text class="s b" x="1147.2" y="1357.4" font-size="16.2" textLength="52.2" lengthAdjust="spacingAndGlyphs" transform="rotate(-21.80 1147.2 1357.4)">26.50'</text>
<text class="s b" x="1161.7" y="1380.0" font-size="18.1" textLength="57.5" lengthAdjust="spacingAndGlyphs" transform="rotate(-22.10 1161.7 1380.0)">62.00'</text>
<text class="s b" x="988.9" y="1446.6" font-size="19.0" textLength="116.5" lengthAdjust="spacingAndGlyphs" transform="rotate(-20.80 988.9 1446.6)">S 68°18'46"</text>
<text class="s b" x="1120.4" y="1397.2" font-size="18.1" textLength="13.8" lengthAdjust="spacingAndGlyphs" transform="rotate(-20.56 1120.4 1397.2)">W</text>
<text class="s b" x="1077.7" y="1356.8" font-size="13.5" textLength="31.0" lengthAdjust="spacingAndGlyphs" transform="rotate(-7.79 1077.7 1356.8)">C16</text>
<text class="s b" x="1102.9" y="1428.5" font-size="7.2" textLength="82.2" lengthAdjust="spacingAndGlyphs" transform="rotate(69.29 1102.9 1428.5)">N21°41'14"W</text>
<text class="s b" x="1133.3" y="1440.8" font-size="10.8" textLength="43.5" lengthAdjust="spacingAndGlyphs" transform="rotate(68.20 1133.3 1440.8)">45.00'</text>
<text class="d" x="951.7" y="1283.1" font-size="19.9" textLength="26.1" lengthAdjust="spacingAndGlyphs" transform="rotate(-8.53 951.7 1283.1)">S.</text>
<text class="d" x="1005.0" y="1268.3" font-size="19.9" textLength="132.4" lengthAdjust="spacingAndGlyphs" transform="rotate(-17.90 1005.0 1268.3)">ALLANTE</text>
<text class="d" x="1006.6" y="1296.0" font-size="19.9" textLength="100.6" lengthAdjust="spacingAndGlyphs" transform="rotate(-18.73 1006.6 1296.0)">PLACE</text>
<text class="s b" x="938.8" y="1563.6" font-size="22.6" textLength="315.0" lengthAdjust="spacingAndGlyphs" transform="rotate(0.12 938.8 1563.6)">DETAIL OF LOT 2, BLOCK 16</text>
<text class="s b" x="1076.1" y="1583.0" font-size="8.1" textLength="37.2" lengthAdjust="spacingAndGlyphs">N.T.S.</text>
<circle cx="721.5" cy="967.7" r="2.6" fill="#fff" stroke="#000" stroke-width="1.40"/>
<circle cx="702.9" cy="1033.0" r="3.4" fill="#fff" stroke="#000" stroke-width="1.60"/>
<path d="M681.9 967.0 L693.9 969.4" fill="none" stroke="#000" stroke-width="1.80"/>
<path d="M709.4 967.9 L718.7 969.8" fill="none" stroke="#000" stroke-width="1.80"/>
<path d="M738.6 966.2 L740.4 973.9" fill="none" stroke="#000" stroke-width="1.80"/>
<path d="M740.1 985.6 C741.2 988.2 744.0 996.6 746.3 1001.1 C748.7 1005.6 750.7 1008.4 754.1 1012.8 C757.5 1017.1 764.7 1024.8 766.8 1027.2" fill="none" stroke="#000" stroke-width="1.80"/>
<path d="M750.2 1016.6 L752.5 1025.2" fill="none" stroke="#000" stroke-width="1.80"/>
<text class="d" x="683.4" y="1002.7" font-size="23.0" textLength="25.8" lengthAdjust="spacingAndGlyphs" transform="rotate(-96.91 683.4 1002.7)">S.</text>
<text class="s" x="686.6" y="1016.6" font-size="19.1" textLength="31.9" lengthAdjust="spacingAndGlyphs" transform="rotate(-46.97 686.6 1016.6)">62'</text>
<text class="s" x="684.0" y="1108.0" font-size="27.2" textLength="39.6" lengthAdjust="spacingAndGlyphs" transform="rotate(-67.47 684.0 1108.0)">C6</text>
<path d="M700.4 1072.2 L708.9 1055.9" fill="none" stroke="#000" stroke-width="1.80"/>
<text class="s b" x="707.4" y="1050.8" font-size="7.6" textLength="56.0" lengthAdjust="spacingAndGlyphs" transform="rotate(69.68 707.4 1050.8)">N21°41'14"W</text>
<text class="s b" x="723.0" y="1043.0" font-size="10.9" textLength="41.5" lengthAdjust="spacingAndGlyphs" transform="rotate(69.70 723.0 1043.0)">45.00'</text>
</svg>
</body></html>
